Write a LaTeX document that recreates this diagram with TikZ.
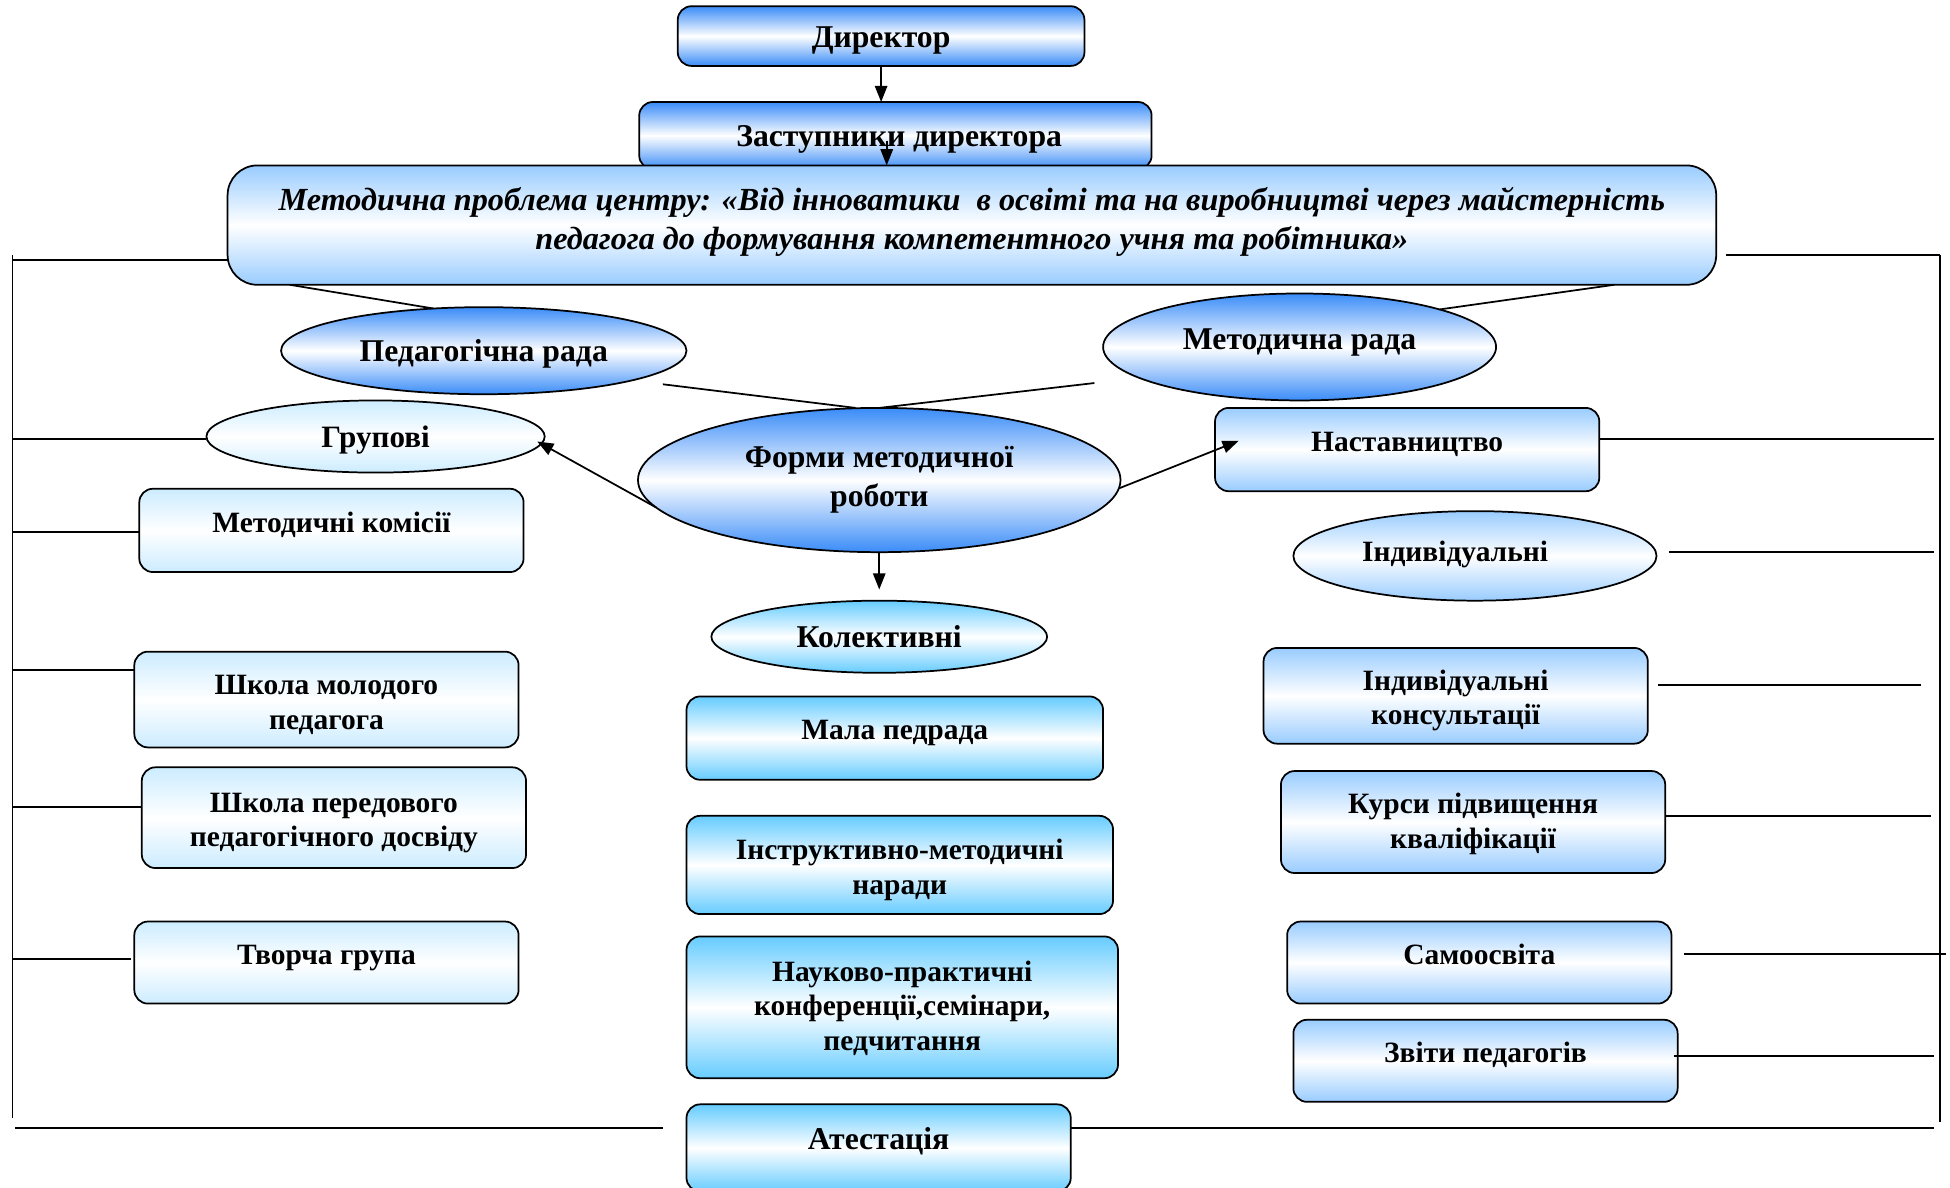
\documentclass[tikz,border=0pt]{standalone}
\usepackage{fontspec}
\setmainfont{Liberation Serif}
\usetikzlibrary{shapes.geometric,arrows.meta,calc}
\definecolor{dblue}{RGB}{58,140,248}
\definecolor{lblue}{RGB}{153,204,255}
\definecolor{pblue}{RGB}{204,236,255}
\definecolor{cblue}{RGB}{102,204,255}
\newcommand\dgfont{\bfseries\fontsize{25.5}{28}\selectfont}
\newcommand\dsfont{\bfseries\fontsize{23.7}{28}\selectfont}
\tikzset{
  shd/.style={top color=#1,bottom color=#1,middle color=white},
  rbox/.style={draw,line width=1.4pt,rounded corners=11pt,inner sep=0pt,outer sep=0pt,align=center,font=\dsfont},
  oval/.style={ellipse,draw,line width=1.4pt,inner sep=0pt,outer sep=0pt,align=center,font=\dgfont},
  big/.style={font=\dgfont},
  up/.style={text height=16pt,text depth=13pt},
  upL/.style={text height=17pt,text depth=15pt},
  flat/.style={text height=18pt,text depth=0pt},
  arr/.style={-{Triangle[length=13pt,width=10pt]},line width=1.4pt},
  frame/.style={line width=1.4pt},
  vframe/.style={line width=1pt},
}
\begin{document}
\begin{tikzpicture}[x=1pt,y=-1pt]
\useasboundingbox (0,0) rectangle (1568,954.5);

% top chain
\node[rbox,big,flat,shd=dblue,minimum width=327pt,minimum height=48pt] (dir) at (708.5,29) {Директор};
\node[rbox,big,flat,shd=dblue,minimum width=412pt,minimum height=54pt] (zd) at (720,109) {\hspace{6pt}Заступники директора};
\node[rbox,shd=lblue,rounded corners=24pt,minimum width=1197pt,minimum height=96pt,
      font=\bfseries\itshape\fontsize{25.9}{31}\selectfont] (mp) at (781.5,181)
  {Методична проблема центру: «Від інноватики\ \ в освіті та на виробництві через майстерність\\
   педагога до формування компетентного учня та робітника»\rule[-11pt]{0pt}{1pt}};

% ellipses
\node[oval,flat,shd=dblue,minimum width=326pt,minimum height=70pt] (pr) at (389,282) {Педагогічна рада};
\node[oval,text height=17pt,text depth=13.5pt,shd=dblue,minimum width=316pt,minimum height=86pt] (mr) at (1045,279) {Методична рада};
\node[oval,flat,shd=pblue,minimum width=272pt,minimum height=58pt,font=\bfseries\fontsize{25}{28}\selectfont] (gr) at (302,351) {Групові};
\node[oval,shd=dblue,minimum width=388pt,minimum height=116pt,font=\bfseries\fontsize{25.5}{31}\selectfont] (fm) at (707,386) {Форми методичної\\роботи};
\node[oval,flat,shd=cblue,minimum width=270pt,minimum height=58pt] (kol) at (707,512) {Колективні};
\node[oval,font=\dsfont,text height=16pt,text depth=7.4pt,shd=lblue,minimum width=292pt,minimum height=72pt] (ind) at (1186,447) {Індивідуальні\hspace{32pt}};

% left column
\node[rbox,up,shd=pblue,minimum width=309pt,minimum height=67pt] (mk) at (266.5,426.5) {Методичні комісії};
\node[rbox,shd=pblue,minimum width=309pt,minimum height=77pt] (sm) at (262.5,562.5) {\rule{0pt}{24pt}Школа молодого\\педагога};
\node[rbox,shd=pblue,minimum width=309pt,minimum height=81pt] (sp) at (268.5,657.5) {\rule{0pt}{24pt}Школа передового\\педагогічного досвіду};
\node[rbox,up,shd=pblue,minimum width=309pt,minimum height=66pt] (tg) at (262.5,774) {Творча група};

% centre column
\node[rbox,up,shd=cblue,minimum width=335pt,minimum height=67pt] (mpr) at (719.5,593.5) {Мала педрада};
\node[rbox,shd=cblue,minimum width=343pt,minimum height=79pt] (im) at (723.5,695.5) {\rule{0pt}{25pt}Інструктивно-методичні\\наради};
\node[rbox,shd=cblue,minimum width=347pt,minimum height=114pt] (np) at (725.5,810) {\rule{0pt}{18pt}Науково-практичні\\конференції,семінари,\\педчитання};
\node[rbox,big,upL,shd=cblue,minimum width=309pt,minimum height=70pt] (at) at (706.5,923) {Атестація};

% right column
\node[rbox,up,shd=lblue,minimum width=309pt,minimum height=67pt] (ns) at (1131.5,361.5) {Наставництво};
\node[rbox,shd=lblue,minimum width=309pt,minimum height=77pt] (ik) at (1170.5,559.5) {\rule{0pt}{24pt}Індивідуальні\\консультації};
\node[rbox,shd=lblue,minimum width=309pt,minimum height=82pt] (kp) at (1184.5,661) {\rule{0pt}{20pt}Курси підвищення\\кваліфікації};
\node[rbox,up,shd=lblue,minimum width=309pt,minimum height=66pt] (so) at (1189.5,774) {Самоосвіта};
\node[rbox,up,shd=lblue,minimum width=309pt,minimum height=66pt] (zp) at (1194.5,853) {Звіти педагогів};

% frame
\coordinate (LT) at (10,205); \coordinate (LB) at (10,899);
\coordinate (RT) at (1560,205); \coordinate (RB) at (1560,902);
\draw[vframe] (LT) -- (LB);
\draw[vframe] (RT) -- (RB);
\coordinate (l0) at (10,209);
\draw[frame] (l0) -- (l0 -| mp.west);
\draw[frame] ([xshift=8pt]mp.east |- RT) -- (RT);

\coordinate (l1) at (10,353); \draw[frame] (l1) -- (l1 -| gr.west);
\coordinate (l2) at (10,428); \draw[frame] (l2) -- (l2 -| mk.west);
\coordinate (l3) at (10,539); \draw[frame] (l3) -- (l3 -| sm.west);
\coordinate (l4) at (10,649); \draw[frame] (l4) -- (l4 -| sp.west);
\coordinate (l5) at (10,771); \draw[frame] (l5) -- ([xshift=-3pt]l5 -| tg.west);

\coordinate (r1) at (1555,353); \draw[frame] (ns.east |- r1) -- (r1);
\coordinate (r2) at (1555,444); \draw[frame] ([xshift=10pt]ind.east |- r2) -- (r2);
\coordinate (r3) at (1545,551); \draw[frame] ([xshift=8pt]ik.east |- r3) -- (r3);
\coordinate (r4) at (1553,656); \draw[frame] ([xshift=1pt]kp.east |- r4) -- (r4);
\coordinate (r5) at (1565,767); \draw[frame] ([xshift=10pt]so.east |- r5) -- (r5);
\coordinate (r6) at (1555,849); \draw[frame] ([xshift=-3pt]zp.east |- r6) -- (r6);

\coordinate (b1) at (12,907); \draw[frame] (b1) -- ([xshift=-19pt]at.west |- b1);
\coordinate (b2) at (1555,907); \draw[frame] (at.east |- b2) -- (b2);

% council links
\draw[frame] ([xshift=50pt]mp.south west) -- (pr.140);
\draw[frame] ([xshift=-82pt]mp.south east) -- (mr.15);
\draw[frame] ($(pr.center)+(144,27)$) -- ([xshift=-19pt]fm.north);
\draw[frame] ($(mr.center)+(-165,29)$) -- (fm.north);

% arrows
\draw[arr] (dir.south) -- (dir.south |- zd.north);
\coordinate (a2) at (713,113); \draw[arr] (a2) -- (a2 |- mp.north);
\draw[arr] (fm.187) -- ([xshift=-6pt,yshift=-4pt]gr.east);
\draw[arr] (fm.-2) -- ($(ns.west)+(19,-7)$);
\draw[arr] (fm.south) -- ([yshift=9pt]kol.north);
\end{tikzpicture}
\end{document}
